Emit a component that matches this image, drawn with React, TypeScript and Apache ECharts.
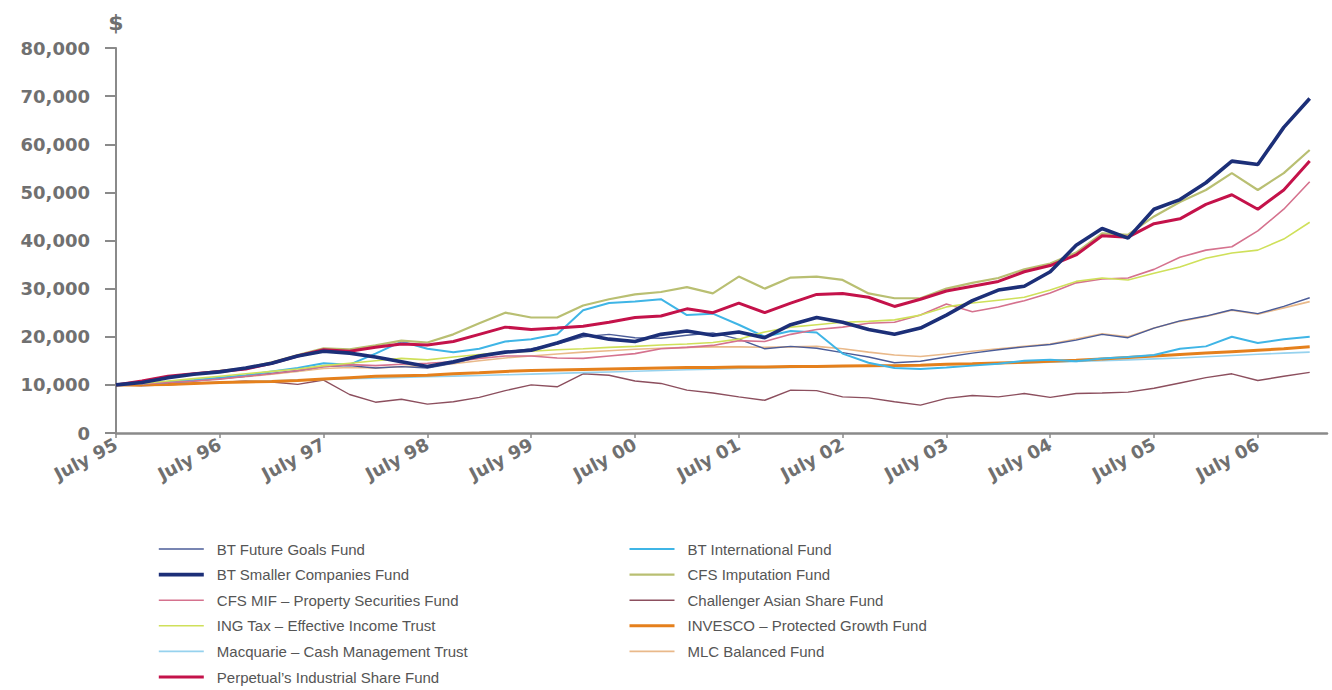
import React, { useEffect, useRef } from "react";
import * as echarts from "echarts";

// Months since July 1995 (quarterly readings)
const months = [0, 3, 6, 9, 12, 15, 18, 21, 24, 27, 30, 33, 36, 39, 42, 45, 48, 51, 54, 57, 60, 63, 66, 69, 72, 75, 78, 81, 84, 87, 90, 93, 96, 99, 102, 105, 108, 111, 114, 117, 120, 123, 126, 129, 132, 135, 138];

const yearLabels = ["95", "96", "97", "98", "99", "00", "01", "02", "03", "04", "05", "06"];

const btFutureGoals = [10000, 10200, 10500, 10800, 11300, 11800, 12400, 13000, 13800, 14000, 13500, 13800, 13500, 14500, 15800, 16800, 17500, 18500, 20000, 20500, 19800, 19700, 20300, 20800, 19500, 17500, 18000, 17600, 16700, 15800, 14600, 14900, 15800, 16600, 17300, 17900, 18400, 19300, 20500, 19800, 21800, 23300, 24300, 25600, 24800, 26300, 28100];
const btSmallerCompanies = [10000, 10500, 11500, 12200, 12700, 13500, 14500, 16000, 17000, 16600, 15800, 14800, 13800, 14800, 16000, 16800, 17200, 18700, 20500, 19500, 19000, 20500, 21200, 20300, 21000, 19800, 22500, 24000, 23000, 21500, 20500, 21800, 24500, 27500, 29700, 30500, 33500, 39000, 42500, 40500, 46500, 48500, 52000, 56500, 55800, 63500, 69500];
const cfsMifProperty = [10000, 10200, 10500, 10800, 11200, 11800, 12300, 13000, 13800, 14200, 14000, 14300, 14500, 14800, 15500, 16000, 16000, 15600, 15500, 16000, 16500, 17500, 17800, 18200, 19200, 19000, 20500, 21500, 22000, 22800, 23000, 24500, 26800, 25200, 26200, 27500, 29100, 31200, 32000, 32200, 34000, 36500, 38000, 38700, 42000, 46500, 52200];
const ingTax = [10000, 10300, 10800, 11300, 11800, 12300, 12800, 13300, 14000, 14500, 15000, 15500, 15200, 15800, 16300, 16800, 17000, 17300, 17500, 17800, 18000, 18300, 18500, 18800, 19500, 21000, 22000, 22500, 23000, 23200, 23500, 24500, 26200, 27000, 27600, 28200, 29700, 31500, 32200, 31800, 33200, 34500, 36300, 37400, 38000, 40300, 43800];
const macquarieCash = [10000, 10140, 10280, 10420, 10560, 10700, 10840, 10980, 11120, 11260, 11400, 11540, 11680, 11820, 11960, 12100, 12240, 12390, 12540, 12690, 12840, 12990, 13130, 13260, 13390, 13510, 13620, 13730, 13840, 13950, 14050, 14150, 14250, 14350, 14450, 14560, 14700, 14850, 15000, 15200, 15400, 15600, 15850, 16100, 16350, 16600, 16800];
const perpetualIndustrial = [10000, 10800, 11800, 12300, 12800, 13300, 14500, 16000, 17300, 17000, 17800, 18500, 18300, 19000, 20500, 22000, 21500, 21800, 22200, 23000, 24000, 24300, 25800, 25000, 27000, 25000, 27000, 28800, 29000, 28200, 26300, 27800, 29500, 30500, 31500, 33500, 34800, 37000, 41000, 40700, 43500, 44500, 47500, 49500, 46500, 50500, 56500];
const btInternational = [10000, 10300, 10600, 11000, 11500, 12000, 12800, 13500, 14500, 14200, 16500, 19000, 17500, 16800, 17500, 19000, 19500, 20500, 25500, 27000, 27300, 27800, 24500, 24800, 22500, 20000, 21200, 20900, 16500, 14600, 13500, 13300, 13600, 14000, 14400, 15000, 15200, 14900, 15500, 15800, 16200, 17500, 18000, 20000, 18700, 19500, 20000];
const cfsImputation = [10000, 10700, 11600, 12300, 12900, 13500, 14700, 16200, 17600, 17400, 18200, 19200, 18800, 20500, 22800, 25000, 24000, 24000, 26500, 27800, 28800, 29300, 30300, 29000, 32500, 30000, 32300, 32500, 31800, 29000, 28000, 28000, 30000, 31200, 32200, 34000, 35200, 37500, 41500, 41200, 45000, 48000, 50500, 54000, 50500, 54000, 58800];
const challengerAsian = [10000, 9800, 10000, 10300, 10500, 10800, 10600, 10100, 11000, 8000, 6400, 7000, 6000, 6500, 7400, 8800, 10000, 9600, 12300, 12000, 10800, 10300, 8900, 8300, 7500, 6800, 8900, 8800, 7500, 7300, 6500, 5800, 7200, 7800, 7500, 8200, 7400, 8200, 8300, 8500, 9300, 10400, 11500, 12300, 10900, 11800, 12600];
const invescoProtected = [10000, 10000, 10100, 10300, 10500, 10600, 10700, 10900, 11200, 11500, 11800, 11900, 12000, 12300, 12500, 12800, 13000, 13100, 13200, 13300, 13400, 13500, 13600, 13600, 13700, 13700, 13800, 13800, 13900, 13950, 14000, 14100, 14300, 14400, 14550, 14700, 14900, 15100, 15400, 15700, 16000, 16300, 16600, 16900, 17200, 17500, 17900];
const mlcBalanced = [10000, 10300, 10600, 10900, 11300, 11700, 12200, 12800, 13400, 13600, 13500, 13800, 14000, 14400, 15000, 15600, 16000, 16400, 16800, 17100, 17400, 17600, 17800, 17900, 17900, 17800, 17900, 18000, 17500, 16800, 16200, 15900, 16400, 17000, 17500, 18000, 18500, 19500, 20600, 20000, 21800, 23200, 24200, 25500, 24700, 26000, 27300];

const leftLegend = [
  "BT Future Goals Fund",
  "BT Smaller Companies Fund",
  "CFS MIF – Property Securities Fund",
  "ING Tax – Effective Income Trust",
  "Macquarie – Cash Management Trust",
  "Perpetual’s Industrial Share Fund",
];
const rightLegend = [
  "BT International Fund",
  "CFS Imputation Fund",
  "Challenger Asian Share Fund",
  "INVESCO – Protected Growth Fund",
  "MLC Balanced Fund",
];

// drawing order (bottom to top)
const seriesDefs = [
  { name: "Challenger Asian Share Fund", values: challengerAsian, color: "#8c4f5e", width: 1.4 },
  { name: "Macquarie – Cash Management Trust", values: macquarieCash, color: "#96d2ee", width: 1.6 },
  { name: "INVESCO – Protected Growth Fund", values: invescoProtected, color: "#e5801c", width: 3 },
  { name: "MLC Balanced Fund", values: mlcBalanced, color: "#e9b98a", width: 1.6 },
  { name: "BT Future Goals Fund", values: btFutureGoals, color: "#4b5c98", width: 1.4 },
  { name: "BT International Fund", values: btInternational, color: "#3fb5e6", width: 2 },
  { name: "CFS MIF – Property Securities Fund", values: cfsMifProperty, color: "#d5728e", width: 1.6 },
  { name: "ING Tax – Effective Income Trust", values: ingTax, color: "#cfe05a", width: 1.6 },
  { name: "CFS Imputation Fund", values: cfsImputation, color: "#b9bf72", width: 2.2 },
  { name: "Perpetual’s Industrial Share Fund", values: perpetualIndustrial, color: "#c4124a", width: 3 },
  { name: "BT Smaller Companies Fund", values: btSmallerCompanies, color: "#1c2f78", width: 3.6 },
];

const axisColor = "#8a8a8a";
const labelFont = { fontFamily: "DejaVu Sans", fontWeight: "bold" as const, fontSize: 18, color: "#707070" };
const legendText = { fontFamily: "Liberation Sans", fontSize: 15, color: "#555", lineHeight: 16, padding: [0, 0, 0, 8] };

export default function App() {
  const ref = useRef<HTMLDivElement>(null);
  useEffect(() => {
    if (!ref.current) return;
    const chart = echarts.init(ref.current, undefined, { renderer: "svg" });
    const legendCommon = {
      orient: "vertical" as const,
      top: 541,
      height: 149,
      padding: 0,
      itemWidth: 45,
      itemHeight: 16,
      itemGap: 9.6,
      textStyle: legendText,
      lineStyle: { width: "inherit" as any },
      itemStyle: { opacity: 0 },
      selectedMode: false,
    };
    chart.setOption({
      animation: false,
      backgroundColor: "#ffffff",
      grid: { left: 116, right: 5, top: 48, bottom: 257, containLabel: false },
      legend: [
        { ...legendCommon, left: 157, data: leftLegend },
        { ...legendCommon, left: 628, data: rightLegend },
      ],
      xAxis: {
        type: "value",
        min: 0,
        max: 140,
        interval: 12,
        splitLine: { show: false },
        axisLine: { show: true, lineStyle: { color: axisColor, width: 2.5 } },
        axisTick: { show: true, length: 5, lineStyle: { color: axisColor, width: 1.5 } },
        axisLabel: {
          ...labelFont,
          rotate: 28,
          margin: 10,
          showMaxLabel: false,
          formatter: (v: number) => {
            const idx = Math.round(v / 12);
            return v % 12 === 0 && idx < yearLabels.length ? "July " + yearLabels[idx] : "";
          },
        },
      },
      yAxis: {
        type: "value",
        min: 0,
        max: 80000,
        interval: 10000,
        name: "$",
        nameLocation: "end",
        nameGap: 15,
        nameTextStyle: { fontFamily: "DejaVu Sans", fontWeight: "bold", fontSize: 22, color: "#707070" },
        splitLine: { show: false },
        axisLine: { show: true, lineStyle: { color: axisColor, width: 2 } },
        axisTick: { show: true, length: 11, lineStyle: { color: axisColor, width: 2 } },
        axisLabel: {
          ...labelFont,
          margin: 26,
          formatter: (v: number) => v.toLocaleString("en-US"),
        },
      },
      series: seriesDefs.map((s) => ({
        name: s.name,
        type: "line",
        symbol: "none",
        data: months.map((m, i) => [m, s.values[i]]),
        lineStyle: { color: s.color, width: s.width },
        itemStyle: { color: s.color },
        emphasis: { disabled: true },
        silent: true,
      })),
    });
    return () => chart.dispose();
  }, []);
  return (
    <div
      ref={ref}
      style={{ position: "fixed", left: 0, top: 0, width: 1332, height: 690, background: "#fff" }}
    />
  );
}
